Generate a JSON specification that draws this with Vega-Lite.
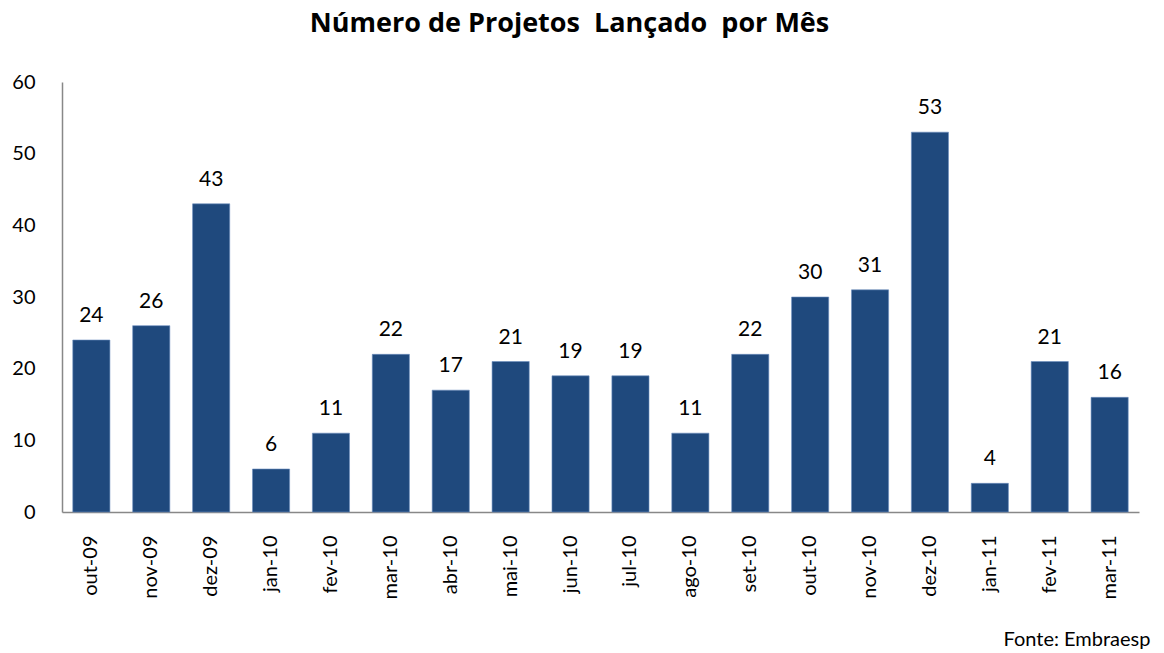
{
  "$schema": "https://vega.github.io/schema/vega-lite/v6.json",
  "width": 1077,
  "height": 430,
  "autosize": "none",
  "padding": {"left": 62, "top": 82, "right": 25, "bottom": 141},
  "background": "white",
  "config": {"view": {"stroke": null}, "font": "Lato"},
  "title": {
    "text": "Número de Projetos\u00a0 Lançado\u00a0 por Mês",
    "font": "Open Sans",
    "fontSize": 27,
    "fontWeight": "bold",
    "color": "#000000",
    "anchor": "middle",
    "dx": -31,
    "offset": 34
  },
  "data": {
    "values": [
      {"mes": "out-09", "n": 24},
      {"mes": "nov-09", "n": 26},
      {"mes": "dez-09", "n": 43},
      {"mes": "jan-10", "n": 6},
      {"mes": "fev-10", "n": 11},
      {"mes": "mar-10", "n": 22},
      {"mes": "abr-10", "n": 17},
      {"mes": "mai-10", "n": 21},
      {"mes": "jun-10", "n": 19},
      {"mes": "jul-10", "n": 19},
      {"mes": "ago-10", "n": 11},
      {"mes": "set-10", "n": 22},
      {"mes": "out-10", "n": 30},
      {"mes": "nov-10", "n": 31},
      {"mes": "dez-10", "n": 53},
      {"mes": "jan-11", "n": 4},
      {"mes": "fev-11", "n": 21},
      {"mes": "mar-11", "n": 16}
    ]
  },
  "encoding": {
    "x": {
      "field": "mes",
      "type": "nominal",
      "sort": null,
      "scale": {"paddingInner": 0.38, "paddingOuter": 0.18},
      "axis": {
        "title": "Fonte: Embraesp",
        "titleFont": "Lato",
        "titleFontSize": 20,
        "titleFontWeight": "normal",
        "titleColor": "#000000",
        "titleAnchor": "end",
        "titleAlign": "right",
        "titleBaseline": "top",
        "titleX": 1088,
        "titleY": 117,
        "labelAngle": -90,
        "labelFontSize": 20,
        "labelColor": "#000000",
        "labelPadding": 23,
        "ticks": false,
        "domainColor": "#888888",
        "domainWidth": 1.5
      }
    },
    "y": {
      "field": "n",
      "type": "quantitative",
      "scale": {"domain": [0, 60]},
      "axis": {
        "title": null,
        "values": [0, 10, 20, 30, 40, 50, 60],
        "grid": false,
        "ticks": false,
        "labelFontSize": 20,
        "labelColor": "#000000",
        "labelPadding": 27,
        "domainColor": "#888888",
        "domainWidth": 1.5
      }
    }
  },
  "layer": [
    {
      "mark": {"type": "bar", "color": "#1F497D", "stroke": "#6C8EBF", "strokeWidth": 0.6}
    },
    {
      "mark": {"type": "text", "baseline": "bottom", "dy": -14, "fontSize": 21, "color": "#000000"},
      "encoding": {"text": {"field": "n", "type": "quantitative"}}
    }
  ]
}
